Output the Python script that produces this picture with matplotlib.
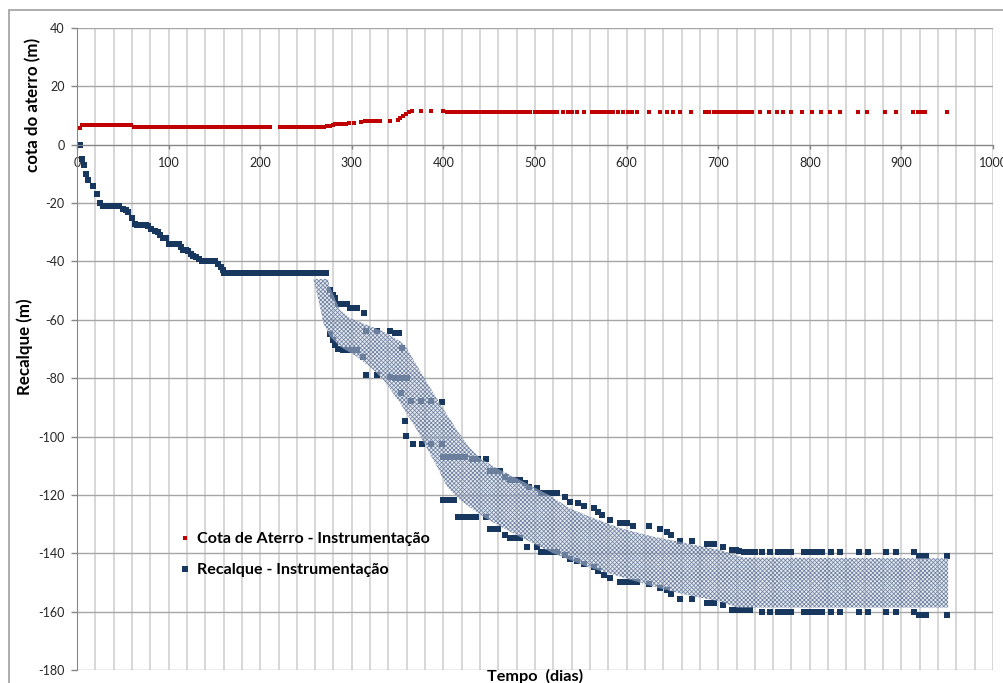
import numpy as np
import matplotlib
matplotlib.use('Agg')
import matplotlib.pyplot as plt
from matplotlib.ticker import MultipleLocator
from matplotlib.patches import Rectangle
from matplotlib.lines import Line2D

plt.rcParams['font.family'] = ['Lato', 'DejaVu Sans']
plt.rcParams['axes.unicode_minus'] = False
plt.rcParams['hatch.linewidth'] = 0.55

# ---------------- data ----------------
# Cota de Aterro - Instrumentacao
cota_dias = [3, 5, 8, 11, 14, 17, 20, 23, 26, 29, 32, 35, 38, 41, 44, 47, 50, 53, 56, 59,
             62, 65, 68, 71, 74, 78, 81, 84, 88, 91, 95, 98, 102, 106, 110, 113, 117, 120,
             124, 127, 131, 134, 138, 141, 145, 148, 152, 155, 159, 162, 166, 169, 173, 176,
             180, 183, 187, 190, 194, 197, 201, 204, 208, 211, 222, 225, 229, 232, 236, 239,
             243, 246, 250, 253, 257, 260, 264, 267, 270,
             273, 276, 279, 282, 286, 290, 294, 297, 302, 310, 314, 318, 322, 326, 331, 342,
             350, 353, 356, 359, 362, 366, 376, 387, 400,
             404, 408, 412, 416, 420, 425, 429, 433, 438, 442, 447, 451, 455, 459,
             462, 466, 470, 474, 478, 482, 486, 490, 494, 500, 504, 508, 512, 516, 520, 524,
             531, 536, 540, 546, 553, 562, 566, 570, 574, 578, 582, 585, 591, 596, 601, 606,
             611, 624, 637, 644, 651, 658, 670, 686, 690, 695, 700, 704, 708, 713, 717, 721,
             725, 729, 733, 737, 746, 755, 764, 771, 779, 792, 802, 812, 822, 833, 853, 862,
             882, 894, 913, 918, 922, 926, 950]
cota_valores = ([5.9] + [6.6] * 19 + [6.2] * 59 +
                [6.3, 6.5, 6.8, 7.0, 7.0, 7.1, 7.2, 7.4, 7.6, 7.9, 8.1, 8.2, 8.2, 8.2, 8.2, 8.2,
                 8.4, 9.0, 9.7, 10.5, 11.2, 11.5, 11.5, 11.5, 11.4] +
                [11.1] * 85)

# Recalque - Instrumentacao (initial phase)
rec_dias_inicio = [3, 6, 8, 10, 12, 17, 22, 25, 28, 31, 34, 37, 40, 43, 46, 50, 53, 56, 60, 63,
                   66, 69, 72, 75, 78, 81, 85, 88, 91, 94, 97, 100, 103, 106, 109, 111, 114,
                   116, 119, 121, 124, 127, 130, 133, 136, 139, 142, 145, 148, 151, 154, 157,
                   159, 161, 164, 167, 170, 173, 176, 179, 182, 185, 188, 191, 194, 197, 200,
                   203, 206, 209, 212, 215, 221, 224, 227, 230, 233, 236, 239, 242, 245, 248,
                   251, 254, 257, 260, 263, 266, 269, 272]
rec_inicio = ([0, -5, -7, -10, -12, -14, -17, -20] + [-21] * 7 +
              [-22, -22.5, -23, -25, -27] + [-27.5] * 4 +
              [-28, -29, -29.5, -30, -31, -32, -32, -34] + [-34] * 4 +
              [-35, -36, -36, -36.5, -37.5, -38, -38.5, -39] + [-40] * 6 +
              [-41, -42, -43] + [-44] * 37)

# upper branch
rec_dias_sup = [276, 279, 282, 285, 288, 291, 295, 298, 302, 306, 313, 316, 328, 342, 347, 351,
                355, 447, 451, 455, 459, 462, 467, 473, 477, 481, 484, 489, 493, 502, 507, 511,
                515, 520, 524, 533, 538, 547, 553, 564, 569, 573, 582, 593, 597, 600, 607, 624,
                637, 644, 649, 658, 671, 688, 691, 695, 705, 715, 719, 723, 728, 732, 736, 740,
                748, 757, 765, 770, 775, 779, 794, 799, 804, 809, 813, 823, 833, 854, 863, 883,
                894, 914, 919, 923, 927, 950]
rec_sup = [-49.7, -51.4, -52.6, -54.6, -54.6, -54.6, -54.6, -56, -56, -56, -57.7, -63.8, -63.8,
           -64, -64.6, -64.6, -69.7, -107.8, -111.8, -111.8, -111.8, -111.8, -113.7, -114.8,
           -114.8, -114.8, -114.8, -116, -117.4, -117.7, -119.4, -119.4, -119.4, -119.4, -119.4,
           -120.8, -122.3, -122.8, -123.8, -124.6, -125.7, -126.8, -128.5, -129.7, -129.7,
           -129.7, -130.6, -130.6, -131.8, -132.6, -133.7, -135.8, -135.8, -136.8, -136.8,
           -136.8, -137.7, -138.8, -139, -139.3, -139.6, -139.6, -139.6, -139.6, -139.6,
           -139.6, -139.6, -139.6, -139.6, -139.6, -139.6, -139.6, -139.6, -139.6, -139.6,
           -139.6, -139.6, -139.6, -139.6, -139.6, -139.6, -139.6, -141, -141, -141, -141]

# points in the middle of the band
rec_dias_meio = [365, 376, 387, 398, 358, 359, 367, 377, 387, 398, 400, 404, 408, 412, 416, 420,
                 424, 431, 435, 438]
rec_meio = [-87.7, -87.7, -87.7, -88, -94.6, -99.8, -102.6, -102.6, -102.6, -102.6, -107, -107,
            -107, -107, -107, -107, -107, -107.8, -107.8, -107.8]

# lower branch
rec_dias_inf = [276, 279, 282, 285, 290, 295, 300, 306, 312, 316, 328, 342, 347, 351, 355, 360,
                354, 400, 404, 408, 412, 416, 420, 424, 428, 432, 436, 447, 451, 455, 460, 467,
                473, 477, 481, 484, 491, 502, 507, 511, 515, 520, 524, 533, 538, 546, 553, 564,
                569, 575, 582, 593, 597, 601, 606, 611, 624, 637, 644, 649, 658, 671, 688, 691,
                695, 705, 715, 719, 723, 727, 731, 735, 748, 757, 765, 770, 775, 779, 794, 799,
                804, 809, 813, 823, 833, 854, 863, 883, 894, 914, 919, 923, 927, 950]
rec_inf = [-64.8, -66.8, -68.6, -70, -70.5, -70.5, -70.5, -70.5, -72.8, -78.9, -79, -79.5, -80,
           -80, -80, -80, -85, -121.7, -121.7, -121.7, -121.7, -127.6, -127.6, -127.6, -127.6,
           -127.6, -127.6, -127.6, -131.6, -131.6, -131.6, -133.7, -134.6, -134.6, -134.6,
           -134.6, -137.7, -137.7, -139.6, -139.6, -139.6, -139.6, -139.6, -140.6, -141.9,
           -142.8, -143.7, -144.8, -146, -147.4, -148.6, -150, -150, -150, -150, -150, -150.6,
           -151.8, -152.6, -153.8, -155.8, -155.8, -157, -157, -157, -157.6, -159.6, -159.6,
           -159.6, -159.6, -159.6, -159.6, -160, -160, -160, -160, -160, -160, -160, -160,
           -160, -160, -160, -160, -160, -160, -160, -160, -160, -160, -161, -161, -161, -161]

# shaded band (envelope)
faixa_sup_dias = [258, 274, 276, 282, 287, 298, 316, 334.5, 353, 360, 378, 396, 414.6, 429, 440,
                  458, 480, 515, 538, 564, 593, 629, 666, 702, 728, 951]
faixa_sup = [-46, -46, -48.6, -53.1, -56.6, -59.4, -61.7, -64, -67.4, -69.7, -79.4, -88.6, -97.7,
             -104, -107.4, -110.8, -114.3, -120, -124.6, -128, -131.4, -134.3, -136.6, -138.9,
             -141.5, -141.7]
faixa_inf_dias = [258, 263.5, 269, 276, 287, 305.4, 323.6, 334.5, 353, 371, 393, 404, 418, 445,
                  478, 520, 556.6, 593, 629, 666, 702, 721, 951]
faixa_inf = [-46, -53.1, -61.1, -65.7, -69.1, -72.6, -77.1, -80.6, -88.6, -97.7, -110.3, -117.2,
             -121.7, -127.8, -133.5, -140, -144.6, -148, -151.4, -154.3, -156.5, -158.6, -158.6]

x_ticks = [0, 100, 200, 300, 400, 500, 600, 700, 800, 900, 1000]
y_ticks = [40, 20, 0, -20, -40, -60, -80, -100, -120, -140, -160, -180]

RED = '#c00000'
NAVY = '#17375e'

# ---------------- figure ----------------
W, H = 1004, 683
fig = plt.figure(figsize=(W / 100, H / 100), dpi=100)
fig.patch.set_facecolor('white')
fig.patches.append(Rectangle((9 / W, -0.1), 1.2, (1 - 10 / H) + 0.1, transform=fig.transFigure,
                             fill=False, edgecolor='#a6a6a6', lw=1.3))

ax = fig.add_axes([77 / W, 1 - 670 / H, (993 - 77) / W, (670 - 28) / H])
ax.set_xlim(0, 1000)
ax.set_ylim(-180, 40)
ax.set_facecolor('none')
ax.xaxis.set_major_locator(MultipleLocator(100))
ax.xaxis.set_minor_locator(MultipleLocator(20))
ax.set_xticks(x_ticks)
ax.set_yticks(y_ticks)
ax.grid(which='both', axis='x', color='#d4d4d4', lw=1.3)
ax.grid(which='major', axis='y', color='#a6a6a6', lw=1.0)
ax.set_axisbelow(True)
for s in ('top', 'right'):
    ax.spines[s].set_visible(False)
ax.spines['left'].set_color('#868686')
ax.spines['bottom'].set_color('#868686')
ax.spines['bottom'].set_position(('data', 0))
ax.tick_params(axis='x', which='major', direction='out', length=3, width=1, color='#868686',
               pad=6, labelsize=9, labelcolor='#262626')
ax.tick_params(axis='x', which='minor', length=0)
ax.tick_params(axis='y', direction='out', length=4, width=1, color='#868686', pad=5,
               labelsize=9, labelcolor='#262626')

# series
rec_dias = rec_dias_inicio + rec_dias_sup + rec_dias_meio + rec_dias_inf
rec_vals = rec_inicio + rec_sup + rec_meio + rec_inf
ax.plot(rec_dias, rec_vals, ls='none', marker='s', ms=4.3, color=NAVY, mec=NAVY, mew=0,
        zorder=2, clip_on=False)
ax.plot(cota_dias, cota_valores, ls='none', marker='s', ms=3.0, color=RED, mec=RED, mew=0,
        zorder=4, clip_on=False)

band_x = np.concatenate([faixa_sup_dias, faixa_inf_dias[::-1]])
band_y = np.concatenate([faixa_sup, faixa_inf[::-1]])
ax.fill(band_x, band_y, facecolor=(0.80, 0.83, 0.89, 0.45), edgecolor='#6f82a1',
        hatch='xxxxxxxx', lw=0, zorder=3)

# legend
h1 = Line2D([], [], ls='none', marker='s', ms=3.2, color=RED, mew=0)
h2 = Line2D([], [], ls='none', marker='s', ms=4.0, color=NAVY, mew=0)
ax.legend([h1, h2], ['Cota de Aterro - Instrumentação', 'Recalque - Instrumentação'],
          loc='upper left', bbox_to_anchor=(181 / W, 1 - 532 / H), bbox_transform=fig.transFigure,
          frameon=False, prop=dict(weight='bold', size=11.6), handlelength=0.45,
          handletextpad=0.55, labelspacing=1.05, borderpad=0, borderaxespad=0)

# axis titles
fig.text(33 / W, 1 - 105 / H, 'cota do aterro (m)', rotation=90, ha='center', va='center',
         fontweight='bold', fontsize=12.2)
fig.text(25 / W, 1 - 347 / H, 'Recalque (m)', rotation=90, ha='center', va='center',
         fontweight='bold', fontsize=12.2)
fig.text(535 / W, 1 - 669 / H, 'Tempo  (dias)', ha='center', va='top', fontweight='bold',
         fontsize=11.7)

fig.savefig('out.png', dpi=100)
